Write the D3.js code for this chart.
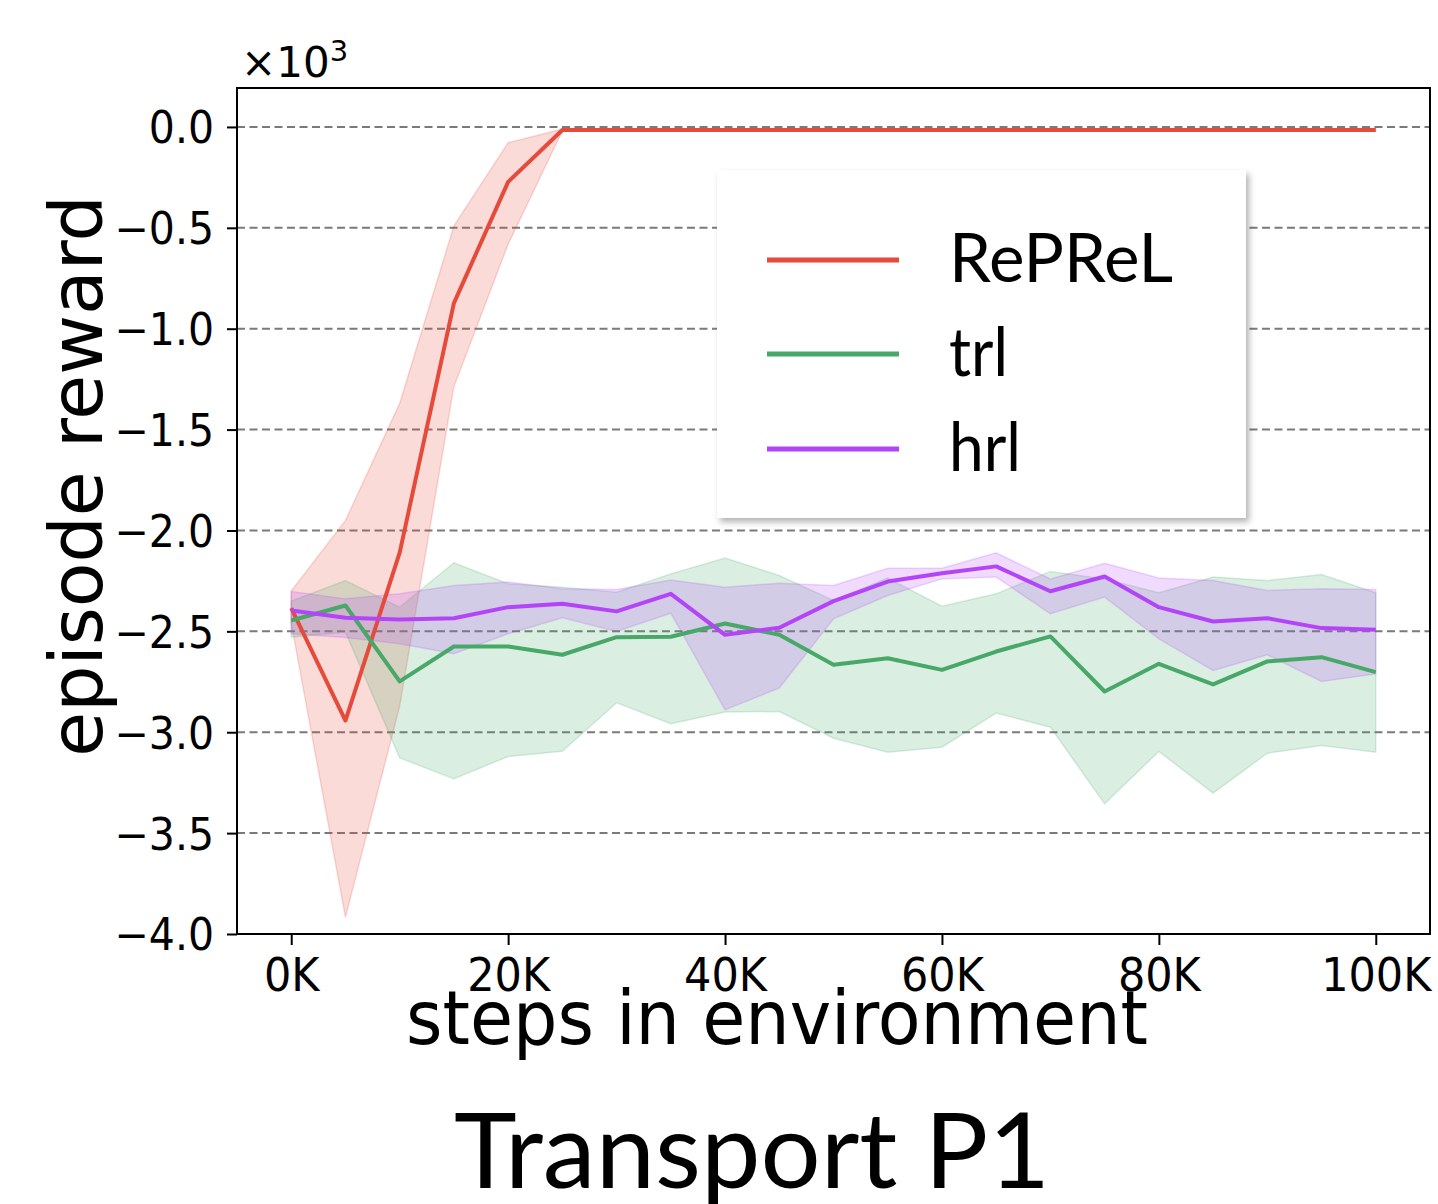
<!DOCTYPE html>
<html>
<head>
<meta charset="utf-8">
<script src="https://cdn.jsdelivr.net/npm/d3@7"></script>
<style>
  body { margin: 0; background: #fff; }
  svg { display: block; }
</style>
</head>
<body>
<div id="chart"></div>
<script>
// data (episode reward, raw units; axis shows x10^3)
const steps = [0, 5000, 10000, 15000, 20000, 25000, 30000, 35000, 40000, 45000, 50000,
               55000, 60000, 65000, 70000, 75000, 80000, 85000, 90000, 95000, 100000];

const reprelMean = [-2385, -2942, -2110, -873, -272, -15, -15, -15, -15, -15, -15,
                    -15, -15, -15, -15, -15, -15, -15, -15, -15, -15];
const reprelHigh = [-2300, -1950, -1370, -490, -78, -10, -10, -10, -10, -10, -10,
                    -10, -10, -10, -10, -10, -10, -10, -10, -10, -10];
const reprelLow  = [-2460, -3917, -2870, -1287, -581, -20, -20, -20, -20, -20, -20,
                    -20, -20, -20, -20, -20, -20, -20, -20, -20, -20];

const trlMean = [-2446, -2372, -2748, -2575, -2575, -2616, -2529, -2527, -2461, -2517, -2665,
                 -2633, -2691, -2600, -2525, -2798, -2661, -2763, -2649, -2628, -2702];
const trlHigh = [-2350, -2248, -2380, -2160, -2264, -2281, -2306, -2215, -2137, -2223, -2347,
                 -2236, -2375, -2314, -2203, -2240, -2309, -2231, -2248, -2218, -2309];
const trlLow  = [-2529, -2504, -3127, -3231, -3120, -3094, -2854, -2958, -2900, -2897, -3030,
                 -3099, -3074, -2905, -2975, -3355, -3095, -3302, -3104, -3066, -3099];

const hrlMean = [-2397, -2433, -2441, -2435, -2380, -2363, -2401, -2314, -2517, -2482, -2350,
                 -2253, -2212, -2178, -2301, -2228, -2380, -2451, -2435, -2484, -2492];
const hrlHigh = [-2302, -2339, -2314, -2273, -2256, -2289, -2292, -2245, -2281, -2261, -2273,
                 -2187, -2187, -2111, -2240, -2162, -2236, -2248, -2297, -2289, -2292];
const hrlLow  = [-2512, -2530, -2562, -2611, -2512, -2433, -2500, -2410, -2889, -2781, -2438,
                 -2322, -2240, -2231, -2413, -2330, -2537, -2694, -2616, -2748, -2711];

const seriesNames = ["RePReL", "trl", "hrl"];
const seriesColors = ["#e64a3b", "#47a867", "#b444f8"];

const yTicks = [0, -500, -1000, -1500, -2000, -2500, -3000, -3500, -4000];
const xTicks = [0, 20000, 40000, 60000, 80000, 100000];
const xTickLabels = ["0K", "20K", "40K", "60K", "80K", "100K"];

const width = 1438, height = 1204;
const plot = { left: 237, right: 1430, top: 88, bottom: 934 };

const svg = d3.select("#chart").append("svg")
    .attr("width", width)
    .attr("height", height);

const defs = svg.append("defs");
const shadow = defs.append("filter").attr("id", "shadow")
    .attr("x", "-10%").attr("y", "-10%").attr("width", "130%").attr("height", "130%");
shadow.append("feDropShadow")
    .attr("dx", 3).attr("dy", 4).attr("stdDeviation", 3)
    .attr("flood-color", "#000").attr("flood-opacity", 0.3);

const x = d3.scaleLinear().domain([-5000, 105000]).range([plot.left, plot.right]);
const y = d3.scaleLinear().domain([-4000, 193]).range([plot.bottom, plot.top]);

// grid
svg.append("g").selectAll("line")
    .data(yTicks)
    .enter()
    .append("line")
    .attr("x1", plot.left).attr("x2", plot.right)
    .attr("y1", d => y(d)).attr("y2", d => y(d))
    .attr("stroke", "#7a7a7a")
    .attr("stroke-width", 2)
    .attr("stroke-dasharray", "8,4.5");

const series = [
    { mean: reprelMean, low: reprelLow, high: reprelHigh },
    { mean: trlMean, low: trlLow, high: trlHigh },
    { mean: hrlMean, low: hrlLow, high: hrlHigh }
];

const area = d3.area()
    .x((d, i) => x(steps[i]))
    .y0(d => y(d[0]))
    .y1(d => y(d[1]));

const line = d3.line()
    .x((d, i) => x(steps[i]))
    .y(d => y(d));

// bands
series.forEach((s, k) => {
    const band = s.low.map((v, i) => [v, s.high[i]]);
    svg.append("path")
        .datum(band)
        .attr("d", area)
        .attr("fill", seriesColors[k])
        .attr("fill-opacity", 0.2)
        .attr("stroke", seriesColors[k])
        .attr("stroke-opacity", 0.2)
        .attr("stroke-width", 1.5);
});

// mean lines
series.forEach((s, k) => {
    svg.append("path")
        .datum(s.mean)
        .attr("d", line)
        .attr("fill", "none")
        .attr("stroke", seriesColors[k])
        .attr("stroke-width", 4)
        .attr("stroke-linejoin", "round");
});

// axes
const yAxis = svg.append("g")
    .attr("transform", `translate(${plot.left},0)`)
    .call(d3.axisLeft(y)
        .tickValues(yTicks)
        .tickSize(10)
        .tickFormat(d => (d / 1000).toFixed(1).replace("-", "\u2212")));

yAxis.select(".domain").remove();
yAxis.selectAll(".tick line").attr("stroke", "#000").attr("stroke-width", 2);
yAxis.selectAll(".tick text")
    .attr("font-family", "DejaVu Sans")
    .attr("font-size", 41)
    .attr("fill", "#000")
    .attr("x", -23)
    .attr("dy", null)
    .attr("y", 0.3645 * 41)
    .attr("transform", "scale(1,1.07)");

const xAxis = svg.append("g")
    .attr("transform", `translate(0,${plot.bottom})`)
    .call(d3.axisBottom(x)
        .tickValues(xTicks)
        .tickSize(11)
        .tickFormat((d, i) => xTickLabels[i]));

xAxis.select(".domain").remove();
xAxis.selectAll(".tick line").attr("stroke", "#000").attr("stroke-width", 2);
xAxis.selectAll(".tick text")
    .attr("font-family", "DejaVu Sans")
    .attr("font-size", 43)
    .attr("fill", "#000")
    .attr("dy", null)
    .attr("y", 57 / 1.07)
    .attr("transform", "scale(1,1.07)");

// frame
svg.append("rect")
    .attr("x", plot.left).attr("y", plot.top)
    .attr("width", plot.right - plot.left)
    .attr("height", plot.bottom - plot.top)
    .attr("fill", "none")
    .attr("stroke", "#000")
    .attr("stroke-width", 2);

// offset text x10^3
const offset = svg.append("text")
    .attr("x", 241).attr("y", 77)
    .attr("font-family", "DejaVu Sans")
    .attr("font-size", 42)
    .attr("fill", "#000");
offset.append("tspan").text("\u00d710");
offset.append("tspan").attr("dy", -16).attr("font-size", 29).text("3");

// axis labels
svg.append("text")
    .attr("transform", "translate(102,476) rotate(-90)")
    .attr("text-anchor", "middle")
    .attr("font-family", "DejaVu Sans")
    .attr("font-size", 73)
    .attr("fill", "#000")
    .text("episode reward");

svg.append("text")
    .attr("transform", "translate(777,1044) scale(1,1.07)")
    .attr("text-anchor", "middle")
    .attr("font-family", "DejaVu Sans")
    .attr("font-size", 70)
    .attr("fill", "#000")
    .text("steps in environment");

// legend
const legend = svg.append("g");
legend.append("rect")
    .attr("x", 717).attr("y", 170)
    .attr("width", 529).attr("height", 348)
    .attr("fill", "#fff")
    .attr("filter", "url(#shadow)");

const legendY = [260, 354, 449];
const legendWidths = [224, 59, 72];
seriesNames.forEach((name, k) => {
    legend.append("line")
        .attr("x1", 767).attr("x2", 899)
        .attr("y1", legendY[k]).attr("y2", legendY[k])
        .attr("stroke", seriesColors[k])
        .attr("stroke-width", 5);
    legend.append("text")
        .attr("x", 949).attr("y", legendY[k] + 22)
        .attr("font-family", "Lato")
        .attr("font-size", 67)
        .attr("fill", "#000")
        .attr("textLength", legendWidths[k])
        .attr("lengthAdjust", "spacingAndGlyphs")
        .text(name);
});

// title
svg.append("text")
    .attr("x", 454).attr("y", 1188)
    .attr("font-family", "Lato")
    .attr("font-size", 104)
    .attr("fill", "#000")
    .attr("textLength", 596)
    .attr("lengthAdjust", "spacingAndGlyphs")
    .text("Transport P1");
</script>
</body>
</html>
